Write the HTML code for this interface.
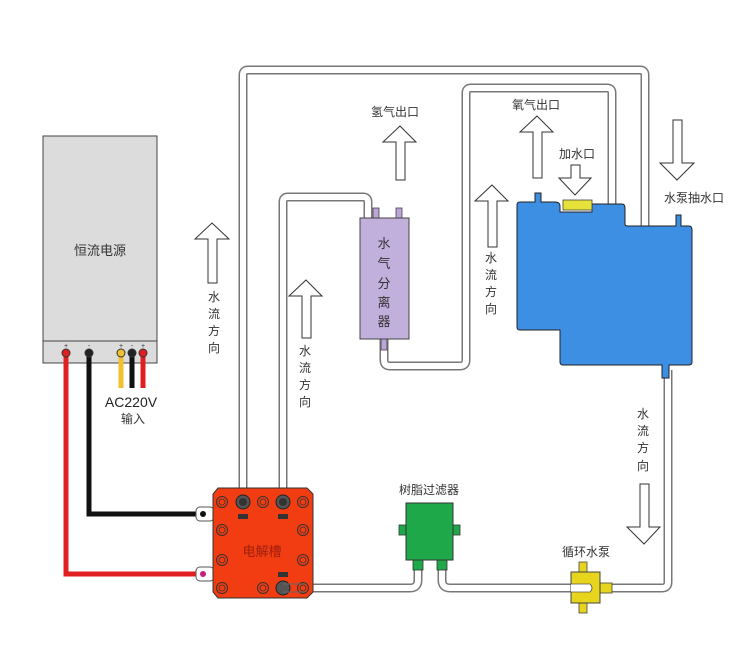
<!DOCTYPE html>
<html><head><meta charset="utf-8"><style>
html,body{margin:0;padding:0;background:#fff;}
svg{display:block;font-family:"Liberation Sans","Noto Sans CJK SC",sans-serif;}
</style></head><body>
<svg width="750" height="666" viewBox="0 0 750 666" xmlns="http://www.w3.org/2000/svg">
<defs>
<g id="bolt"><circle r="5.5" fill="none" stroke="#333" stroke-width="1"/><circle r="3" fill="none" stroke="#333" stroke-width="0.8"/></g>
</defs>
<rect width="750" height="666" fill="#fff"/>

<!-- tubes: outer gray, inner white -->
<g fill="none" stroke-linejoin="round" stroke-linecap="butt">
<g stroke="#777" stroke-width="9">
<path d="M243 500 V75 Q243 70 248 70 H640 Q645 70 645 75 V228"/>
<path d="M283 500 V202 Q283 197 288 197 H363 Q368 197 368 202 V220"/>
<path d="M384 338 V360 Q384 366 390 366 H460 Q466 366 466 360 V93 Q466 88 471 88 H607 Q612 88 612 93 V206"/>
<path d="M290 588 H410 Q418 588 418 580 V568"/>
<path d="M442 568 V580 Q442 588 450 588 H595"/>
<path d="M605 588 H662 Q668 588 668 582 V370"/>
</g>
<g stroke="#fff" stroke-width="6">
<path d="M243 500 V75 Q243 70 248 70 H640 Q645 70 645 75 V228"/>
<path d="M283 500 V202 Q283 197 288 197 H363 Q368 197 368 202 V220"/>
<path d="M384 338 V360 Q384 366 390 366 H460 Q466 366 466 360 V93 Q466 88 471 88 H607 Q612 88 612 93 V206"/>
<path d="M290 588 H410 Q418 588 418 580 V568"/>
<path d="M442 568 V580 Q442 588 450 588 H595"/>
<path d="M605 588 H662 Q668 588 668 582 V370"/>
</g>
</g>

<!-- power supply -->
<rect x="43" y="136" width="114" height="227" fill="#dcdcdc" stroke="#444" stroke-width="1"/>
<line x1="43" y1="341" x2="157" y2="341" stroke="#444"/>
<text x="100" y="255" font-size="13" text-anchor="middle" fill="#333">恒流电源</text>
<g font-size="7" fill="#333" text-anchor="middle">
<text x="66" y="348">+</text><text x="89" y="348">-</text><text x="121" y="348">+</text><text x="132" y="348">-</text><text x="143" y="348">+</text>
</g>
<!-- wires -->
<path d="M66 352 V574 H205" fill="none" stroke="#e02020" stroke-width="5"/>
<path d="M89 352 V514 H205" fill="none" stroke="#111" stroke-width="5"/>
<line x1="121" y1="352" x2="121" y2="388" stroke="#f0c030" stroke-width="5"/>
<line x1="132" y1="352" x2="132" y2="388" stroke="#111" stroke-width="5"/>
<line x1="143" y1="352" x2="143" y2="388" stroke="#e02020" stroke-width="5"/>
<circle cx="66" cy="353" r="4" fill="#e02020" stroke="#333"/><circle cx="89" cy="353" r="4" fill="#222" stroke="#333"/>
<circle cx="121" cy="353" r="4" fill="#f0c030" stroke="#333"/><circle cx="132" cy="353" r="4" fill="#222" stroke="#333"/><circle cx="143" cy="353" r="4" fill="#e02020" stroke="#333"/>
<text x="131" y="407" font-size="14" text-anchor="middle" fill="#222">AC220V</text>
<text x="133" y="423" font-size="12" text-anchor="middle" fill="#333">输入</text>
<!-- connectors -->
<rect x="196" y="507" width="18" height="14" rx="4" fill="#fff" stroke="#555"/>
<rect x="196" y="567" width="18" height="14" rx="4" fill="#fff" stroke="#555"/>
<circle cx="203" cy="514" r="3" fill="#111"/><circle cx="203" cy="574" r="3" fill="#c02080"/>

<!-- electrolyzer -->
<path d="M218 488 H307 L313 494 V592 L307 598 H218 L213 592 V494 Z" fill="#f23c12" stroke="#333" stroke-width="1"/>
<g transform="translate(222,502)"><use href="#bolt"/></g>
<g transform="translate(263,502)"><use href="#bolt"/></g>
<g transform="translate(303,502)"><use href="#bolt"/></g>
<g transform="translate(222,530)"><use href="#bolt"/></g>
<g transform="translate(303,530)"><use href="#bolt"/></g>
<g transform="translate(222,560)"><use href="#bolt"/></g>
<g transform="translate(303,560)"><use href="#bolt"/></g>
<g transform="translate(222,588)"><use href="#bolt"/></g>
<g transform="translate(263,588)"><use href="#bolt"/></g>
<g transform="translate(303,588)"><use href="#bolt"/></g>
<circle cx="243" cy="502" r="7" fill="#555" stroke="#222"/><circle cx="243" cy="502" r="4" fill="#333"/>
<circle cx="283" cy="502" r="7" fill="#555" stroke="#222"/><circle cx="283" cy="502" r="4" fill="#333"/>
<circle cx="283" cy="588" r="7" fill="#555" stroke="#222"/>
<path d="M283 584 H305 M283 592 H305" stroke="#666" stroke-width="1"/>
<rect x="238" y="514" width="10" height="5" fill="#333"/><rect x="278" y="514" width="10" height="5" fill="#333"/>
<rect x="278" y="572" width="10" height="5" fill="#333"/>
<text x="262" y="556" font-size="13" text-anchor="middle" fill="#a02010">电解槽</text>

<!-- separator -->
<rect x="373" y="208" width="6" height="12" fill="#b9a6d6" stroke="#444" stroke-width="0.8"/>
<rect x="396" y="208" width="6" height="12" fill="#b9a6d6" stroke="#444" stroke-width="0.8"/>
<rect x="381" y="338" width="6" height="12" fill="#b9a6d6" stroke="#444" stroke-width="0.8"/>
<rect x="360" y="218" width="49" height="121" fill="#c2b0dc" stroke="#444" stroke-width="1"/>
<g font-size="13" text-anchor="middle" fill="#333">
<text x="384" y="248">水</text><text x="384" y="268">气</text><text x="384" y="288">分</text><text x="384" y="307">离</text><text x="384" y="326">器</text>
</g>

<!-- tank -->
<path d="M520 202 H535 V193 H541 V202 H555 Q560 202 560 206 V212 H592 V204 H622 Q625 204 625 208 V224 Q625 226 628 226 H676 V215 H681 V226 H689 Q692 226 692 230 V362 Q692 365 689 365 H669 V378 H662 V365 H563 Q560 365 560 362 V330 H520 Q517 330 517 327 V205 Q517 202 520 202 Z" fill="#3d8fe3" stroke="#222" stroke-width="1"/>
<rect x="563" y="200" width="29" height="10" fill="#e6e23a" stroke="#444" stroke-width="0.8"/>

<!-- filter -->
<rect x="399" y="525" width="8" height="10" fill="#1fa84a" stroke="#333" stroke-width="0.8"/>
<rect x="452" y="525" width="8" height="10" fill="#1fa84a" stroke="#333" stroke-width="0.8"/>
<rect x="413" y="558" width="10" height="12" fill="#1fa84a" stroke="#333" stroke-width="0.8"/>
<rect x="437" y="558" width="10" height="12" fill="#1fa84a" stroke="#333" stroke-width="0.8"/>
<rect x="406" y="503" width="47" height="57" fill="#1fa84a" stroke="#333" stroke-width="1"/>
<text x="429" y="494" font-size="12" text-anchor="middle" fill="#333">树脂过滤器</text>

<!-- pump -->
<rect x="579" y="562" width="8" height="11" fill="#e6d51c" stroke="#444" stroke-width="0.8"/>
<rect x="579" y="602" width="8" height="11" fill="#e6d51c" stroke="#444" stroke-width="0.8"/>
<rect x="600" y="583" width="12" height="10" fill="#e6d51c" stroke="#444" stroke-width="0.8"/>
<rect x="571" y="572" width="29" height="31" fill="#e6d51c" stroke="#444" stroke-width="1"/>
<path d="M571 584 H590 Q594 588 590 592 H571" fill="#fff" stroke="#555" stroke-width="0.8"/>
<text x="586" y="556" font-size="12" text-anchor="middle" fill="#333">循环水泵</text>

<!-- arrows -->
<g fill="#fff" stroke="#333" stroke-width="1">
<polygon points="212,223 229,239 217,239 217,283 208,283 208,239 195,239"/>
<polygon points="306,280 322,296 311,296 311,338 302,338 302,296 289,296"/>
<polygon points="400,126 416,142 405,142 405,180 396,180 396,142 383,142"/>
<polygon points="492,185 508,201 497,201 497,247 488,247 488,201 475,201"/>
<polygon points="537,116 553,132 542,132 542,178 533,178 533,132 520,132"/>
<polygon points="575,195 591,178 580,178 580,165 571,165 571,178 559,178"/>
<polygon points="677,180 694,163 682,163 682,120 673,120 673,163 660,163"/>
<polygon points="644,544 660,527 649,527 649,484 640,484 640,527 627,527"/>
</g>
<g fill="#333" font-size="12" text-anchor="middle">
<text x="214" y="301">水</text><text x="214" y="318">流</text><text x="214" y="335">方</text><text x="214" y="352">向</text>
<text x="305" y="355">水</text><text x="305" y="372">流</text><text x="305" y="389">方</text><text x="305" y="406">向</text>
<text x="491" y="262">水</text><text x="491" y="279">流</text><text x="491" y="296">方</text><text x="491" y="313">向</text>
<text x="643" y="418">水</text><text x="643" y="435">流</text><text x="643" y="452">方</text><text x="643" y="470">向</text>
<text x="395" y="116">氢气出口</text>
<text x="536" y="109">氧气出口</text>
<text x="577" y="158">加水口</text>
<text x="694" y="202">水泵抽水口</text>
</g>
</svg>
</body></html>
